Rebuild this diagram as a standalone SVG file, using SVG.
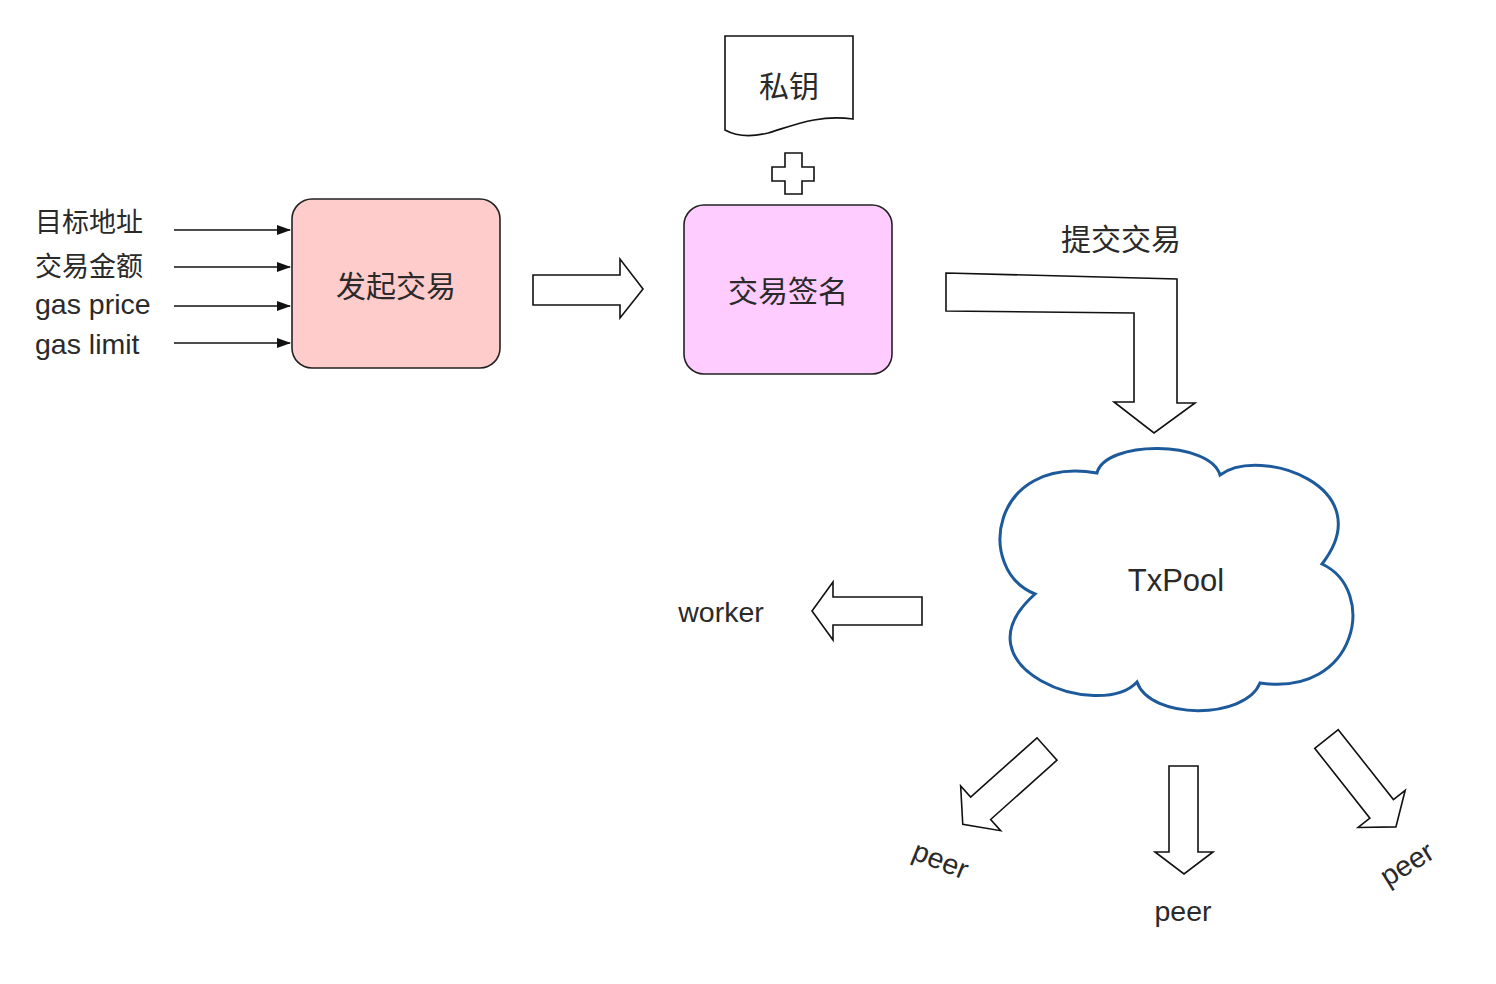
<svg xmlns="http://www.w3.org/2000/svg" width="1496" height="984" viewBox="0 0 1496 984">
<defs>
<style>
text{font-family:"Liberation Sans","Noto Sans CJK SC",sans-serif;fill:#2a2a2a}
.lbl{font-size:27px}
.lat{font-size:28.5px}
.big{font-size:30px}
.blk{fill:#fff;stroke:#111;stroke-width:1.6;stroke-linejoin:miter}
.line{stroke:#111;stroke-width:1.6;fill:none}
</style>
<marker id="ah" viewBox="0 0 14 10" refX="13" refY="5" markerWidth="14" markerHeight="10" markerUnits="userSpaceOnUse" orient="auto">
<path d="M0,0 L14,5 L0,10 Z" fill="#111"/>
</marker>
</defs>
<rect width="1496" height="984" fill="#fff"/>

<g id="inputs">
<text class="lbl" x="35" y="232">目标地址</text>
<text class="lbl" x="35" y="276">交易金额</text>
<text class="lat" x="35" y="314">gas price</text>
<text class="lat" x="35" y="354">gas limit</text>
</g>

<g id="node-start">
<rect x="292" y="199" width="208" height="169" rx="20" fill="#FFCCCC" stroke="#222" stroke-width="1.6"/>
<text class="big" x="396" y="297" text-anchor="middle">发起交易</text>
</g>

<g id="node-sign">
<rect x="684" y="205" width="208" height="169" rx="20" fill="#FFCCFF" stroke="#222" stroke-width="1.6"/>
<text class="big" x="788" y="302" text-anchor="middle">交易签名</text>
</g>

<g id="node-key">
<path class="blk" d="M725,36 H853 V119 C818,114 792,126 768,133 C748,138 734,135 725,130 Z"/>
<text class="big" x="789" y="97" text-anchor="middle">私钥</text>
</g>

<g id="plus">
<path class="blk" d="M785,153 H802 V167 H814 V181 H802 V194 H785 V181 H772 V167 H785 Z"/>
</g>

<g id="node-txpool">
<path d="M1097,473 C1105,440 1210,440 1220,475 C1260,445 1382,487 1322,564 C1378,590 1358,697 1260,683 C1245,720 1150,720 1137,682 C1100,722 952,668 1035,594 C975,570 990,455 1097,473 Z" fill="#fff" stroke="#1D5A9B" stroke-width="3"/>
<text class="big" x="1176" y="591" text-anchor="middle" style="font-size:31px">TxPool</text>
</g>

<g id="label-submit">
<text class="big" x="1121" y="250" text-anchor="middle">提交交易</text>
</g>

<g id="label-worker">
<text class="lat" x="721" y="622" text-anchor="middle">worker</text>
</g>

<g id="label-peers">
<text class="lat" x="1183" y="921" text-anchor="middle">peer</text>
<text class="lat" x="0" y="0" text-anchor="middle" transform="translate(937,869) rotate(22)">peer</text>
<text class="lat" x="0" y="0" text-anchor="middle" transform="translate(1412,872) rotate(-32)">peer</text>
</g>

<g id="connectors">
<line class="line" x1="174" y1="230" x2="290" y2="230" marker-end="url(#ah)"/>
<line class="line" x1="174" y1="267" x2="290" y2="267" marker-end="url(#ah)"/>
<line class="line" x1="174" y1="306" x2="290" y2="306" marker-end="url(#ah)"/>
<line class="line" x1="174" y1="343" x2="290" y2="343" marker-end="url(#ah)"/>
<path class="blk" d="M533,275 H620 V259 L643,289 L620,318 V305 H533 Z"/>
<path class="blk" d="M946,273 L1177,279 L1177,403 L1195,403 L1154,433 L1114,402 L1134,402 L1134,313 L946,311 Z"/>
<path class="blk" d="M922,597 V625 H833 V640 L812,611 L833,582 V597 Z"/>
<path class="blk" d="M1169,766 H1198 V852 H1213 L1184,874 L1155,852 H1169 Z"/>
<path class="blk" transform="translate(1047,749) rotate(138.2)" d="M0,-15 L89,-15 L89,-30 L113,0 L89,30 L89,15 L0,15 Z"/>
<path class="blk" transform="translate(1326.5,739) rotate(51.7)" d="M0,-15 L89,-15 L89,-30 L112,0 L89,30 L89,15 L0,15 Z"/>
</g>
</svg>
